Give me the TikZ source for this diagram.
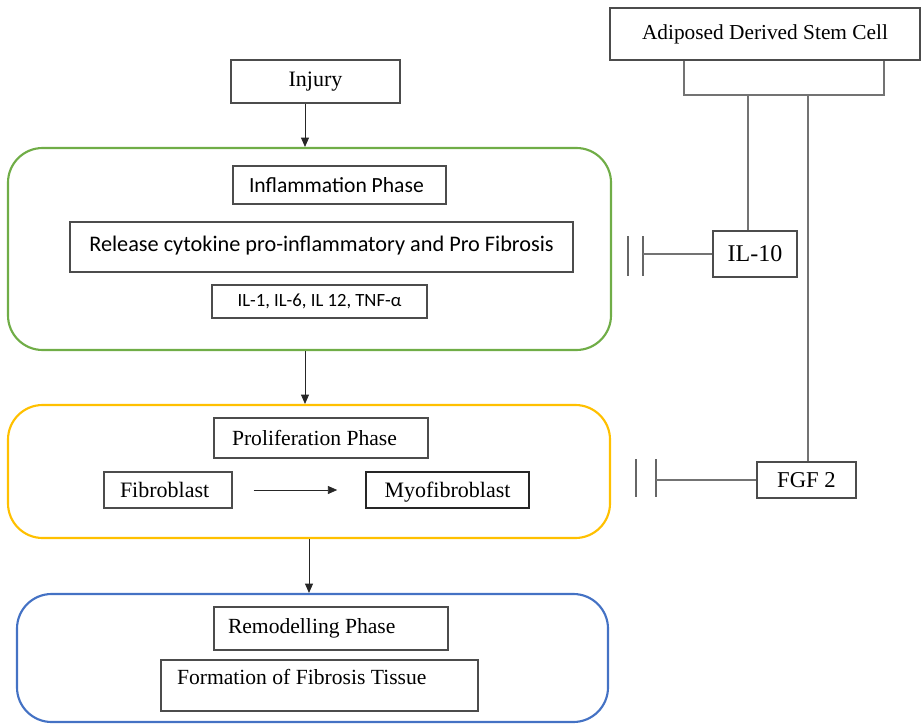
\documentclass[tikz,border=0pt]{standalone}
\usepackage{fontspec}
\setmainfont{Liberation Serif}
\newfontfamily\calib{Carlito}
\usetikzlibrary{arrows.meta}
\definecolor{pgreen}{HTML}{70AD47}
\definecolor{pyellow}{HTML}{FFC000}
\definecolor{pblue}{HTML}{4472C4}
\begin{document}
\begin{tikzpicture}[x=0.75pt,y=-0.75pt,
  box/.style={draw=black!70, line width=0.8pt, inner sep=0pt, font=\fontsize{16.2}{19}\selectfont},
  lbox/.style={align=flush left, inner xsep=#1},
  cbox/.style={box, font=\calib\fontsize{16.2}{19}\selectfont},
  phase/.style={draw=#1, line width=1.6pt, rounded corners=26pt, inner sep=0pt},
  arr/.style={draw=black!85, line width=0.6pt, -{Triangle[length=7pt,width=6pt]}},
  link/.style={draw=black!55, line width=0.9pt},
  bar/.style={draw=black!60, line width=0.9pt}]
\useasboundingbox (0,0) rectangle (921,724);
% phase frames
\node[phase=pgreen, minimum width=452.25pt, minimum height=151.5pt] (green) at (309.5,249) {};
\node[phase=pyellow, minimum width=451.5pt, minimum height=99.75pt] (yellow) at (309,471.5) {};
\node[phase=pblue, minimum width=443.25pt, minimum height=96pt] (blue) at (312.5,658) {};
% left column
\node[box, minimum width=126.75pt, minimum height=32.25pt, font=\fontsize{16.5}{19}\selectfont] (injury) at (315.5,81.5) {Injury};
\node[cbox, lbox=12pt, text width=135.75pt, minimum height=28.5pt] (inflam) at (339.5,185) {Inflammation Phase};
\node[cbox, minimum width=377.25pt, minimum height=37.5pt, font=\calib\fontsize{16.7}{19}\selectfont, text height=12pt, text depth=6pt] (release) at (321.5,247) {Release cytokine pro-inflammatory and Pro Fibrosis};
\node[cbox, minimum width=161.25pt, minimum height=24.75pt, font=\calib\fontsize{14}{16}\selectfont] (il1) at (319.5,301.5) {IL-1, IL-6, IL 12, TNF-α};
\node[box, lbox=13.5pt, text width=133.5pt, minimum height=30pt] (prolif) at (321,438) {Proliferation Phase};
\node[box, lbox=12pt, text width=72pt, minimum height=27pt, font=\fontsize{16.5}{19}\selectfont] (fib) at (168,490) {Fibroblast};
\node[box, line width=1.2pt, draw=black!85, minimum width=122.25pt, minimum height=27pt, font=\fontsize{16.5}{19}\selectfont, text height=14pt, text depth=3pt] (myo) at (447.5,490) {Myofibroblast};
\node[box, lbox=10.5pt, text width=154.5pt, minimum height=32.25pt] (remod) at (331,628.5) {Remodelling Phase};
\node[box, lbox=12pt, text width=213.75pt, minimum height=38.25pt, text height=11pt, text depth=12pt] (form) at (319.5,685.5) {Formation of Fibrosis Tissue};
% right column
\node[box, minimum width=232.5pt, minimum height=39pt, font=\fontsize{16}{19}\selectfont] (adsc) at (765,34) {Adiposed Derived Stem Cell};
\node[box, minimum width=63pt, minimum height=34.5pt, font=\fontsize{18}{21}\selectfont] (il10) at (755,254) {IL-10};
\node[box, minimum width=74.25pt, minimum height=27pt, font=\fontsize{17}{20}\selectfont] (fgf) at (806.5,480) {FGF 2};
% arrows of the main flow
\coordinate (c1) at (305,0);
\coordinate (c2) at (309,0);
\draw[arr] (injury.south -| c1) -- (green.north -| c1);
\draw[arr] (green.south -| c1) -- (yellow.north -| c1);
\draw[arr] (yellow.south -| c2) -- (blue.north -| c2);
\draw[arr, shorten <=15.75pt, shorten >=21pt] (fib.east) -- (myo.west);
% stem cell branches
\coordinate (bl) at (684,95);
\coordinate (br) at (884,95);
\coordinate (b1) at (748,95);
\coordinate (b2) at (808,95);
\draw[link] (adsc.south -| bl) -- (bl) -- (br) -- (adsc.south -| br);
\draw[link] (b1) -- (il10.north -| b1);
\draw[link] (b2) -- (fgf.north -| b2);
% inhibitors
\coordinate (i1a) at (628,236); \coordinate (i1b) at (628,276);
\coordinate (i1c) at (643,236); \coordinate (i1d) at (643,276);
\draw[bar] (i1a) -- (i1b);
\draw[bar] (i1c) -- (i1d);
\draw[link] (il10.west) -- (il10.west -| i1c);
\coordinate (i2a) at (636,459); \coordinate (i2b) at (636,497);
\coordinate (i2c) at (656,459); \coordinate (i2d) at (656,497);
\draw[bar] (i2a) -- (i2b);
\draw[bar] (i2c) -- (i2d);
\draw[link] (fgf.west) -- (fgf.west -| i2c);
\end{tikzpicture}
\end{document}
